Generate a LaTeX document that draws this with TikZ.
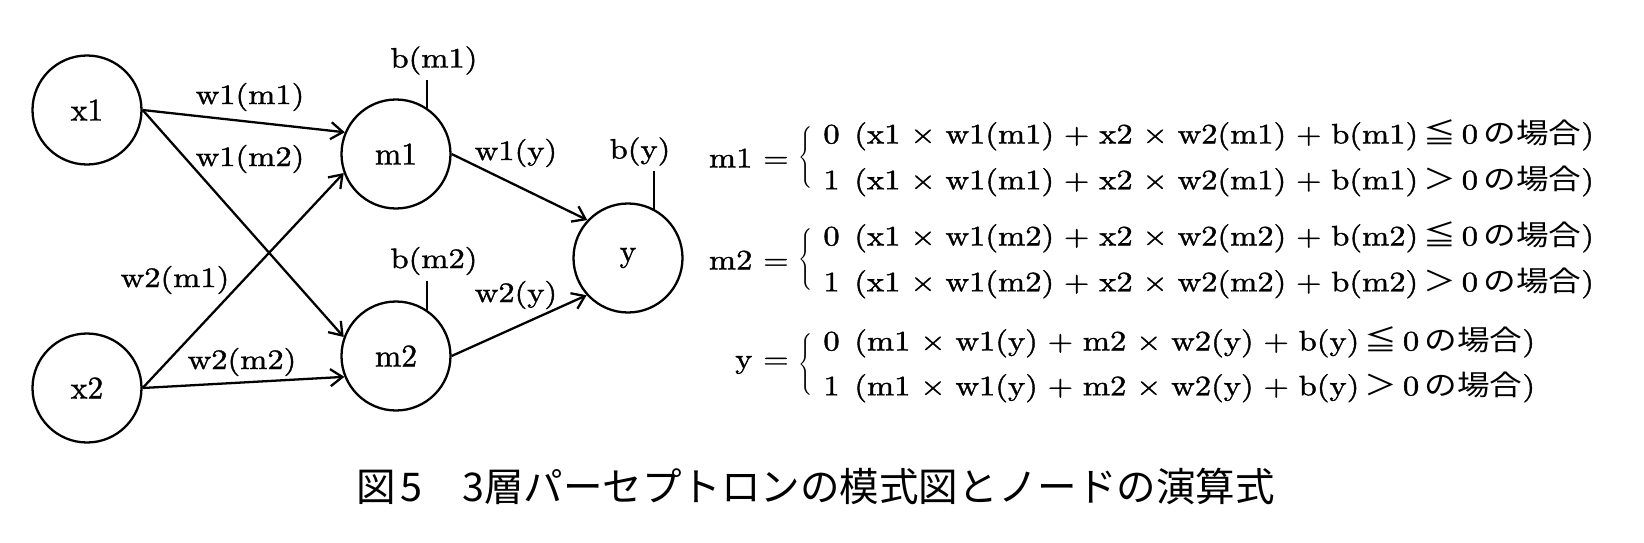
\documentclass[tikz,border=0pt]{standalone}
\usepackage{fontspec}
\usepackage{graphicx}
\usetikzlibrary{arrows.meta}
\setmainfont{lmroman10-regular.otf}[FakeBold=1.2]
\newfontfamily\ja{Noto Sans CJK JP}

\begin{document}
\begin{tikzpicture}[x=1cm, y=1cm,
    neuron/.style={draw, circle, minimum size=2.18cm, inner sep=0pt, line width=1.3pt, font=\fontsize{18}{18}\selectfont},
    wlab/.style={inner sep=1pt, font=\fontsize{16}{16}\selectfont},
    blab/.style={inner sep=3pt, font=\fontsize{16}{16}\selectfont},
    conn/.style={line width=1.3pt, -{Straight Barb[length=2.4mm,width=3.4mm]}},
    bias/.style={line width=1.3pt},
    brace/.style={inner sep=0pt},
    eqrow/.style={anchor=west, inner sep=0pt, font=\fontsize{16}{16}\selectfont},
    eqlhs/.style={anchor=east, inner sep=0pt, font=\fontsize{16}{16}\selectfont}]
  \def\sx#1{\scalebox{1.16}[1]{#1}}
  \def\op#1{\hspace{.3em}#1\hspace{.3em}}
  \def\lbr{\scalebox{1}[1.17]{$\Bigg\{$}}
  \useasboundingbox (0,0) rectangle (32.88,10.84);
  %
  \node[neuron] (x1) at (1.74,8.64) {x1};   % input layer
  \node[neuron] (x2) at (1.74,3.08) {x2};
  \node[neuron] (m1) at (7.92,7.76) {m1};   % middle layer
  \node[neuron] (m2) at (7.92,3.72) {m2};
  \node[neuron] (y)  at (12.56,5.68) {y};   % output
  %
  \node[wlab] (lw1m1) at (5.0,8.9)   {\sx{w1(m1)}};
  \node[wlab] (lw1m2) at (5.0,7.66)  {\sx{w1(m2)}};
  \node[wlab] (lw2m1) at (3.5,5.24)  {\sx{w2(m1)}};
  \node[wlab] (lw2m2) at (4.84,3.6)  {\sx{w2(m2)}};
  \node[wlab] (lw1y)  at (10.32,7.78) {\sx{w1(y)}};
  \node[wlab] (lw2y)  at (10.32,4.94) {\sx{w2(y)}};
  \node[blab] (bm1) at (8.68,9.63) {\sx{b(m1)}};
  \node[blab] (bm2) at (8.68,5.62) {\sx{b(m2)}};
  \node[blab] (by)  at (12.8,7.81) {\sx{b(y)}};
  %
  \draw[conn] (x1.east) -- (m1.157);
  \draw[conn] (x1.east) -- (m2.160);
  \draw[conn] (x2.east) -- (m1.200);
  \draw[conn] (x2.east) -- (m2.202);
  \draw[conn] (m1.east) -- (y.137);
  \draw[conn] (m2.east) -- (y.222);
  \draw[bias] (m1.56) -- (m1.56 |- bm1.south);
  \draw[bias] (m2.56) -- (m2.56 |- bm2.south);
  \draw[bias] (y.62) -- (y.62 |- by.south);
  %
  \node[eqlhs] (lhsm1) at (15.78,7.68) {\sx{m1 =}};   % m1 rule
  \node[brace] (brm1) at (16.12,7.68) {\lbr};
  \node[eqrow] (eqm1a) at (16.46,8.14) {\sx{0\hspace{.45em}(x1\op{×}w1(m1)\op{+}x2\op{×}w2(m1)\op{+}b(m1)\,{\ja ≦}\,0\,{\ja の場合})}};
  \node[eqrow] (eqm1b) at (16.46,7.22) {\sx{1\hspace{.45em}(x1\op{×}w1(m1)\op{+}x2\op{×}w2(m1)\op{+}b(m1)\,{\ja ＞}\,0\,{\ja の場合})}};
  %
  \node[eqlhs] (lhsm2) at (15.78,5.64) {\sx{m2 =}};   % m2 rule
  \node[brace] (brm2) at (16.12,5.64) {\lbr};
  \node[eqrow] (eqm2a) at (16.46,6.10) {\sx{0\hspace{.45em}(x1\op{×}w1(m2)\op{+}x2\op{×}w2(m2)\op{+}b(m2)\,{\ja ≦}\,0\,{\ja の場合})}};
  \node[eqrow] (eqm2b) at (16.46,5.18) {\sx{1\hspace{.45em}(x1\op{×}w1(m2)\op{+}x2\op{×}w2(m2)\op{+}b(m2)\,{\ja ＞}\,0\,{\ja の場合})}};
  %
  \node[eqlhs] (lhsy) at (15.78,3.54) {\sx{y =}};   % y rule
  \node[brace] (bry) at (16.12,3.54) {\lbr};
  \node[eqrow] (eqya) at (16.46,4.00) {\sx{0\hspace{.45em}(m1\op{×}w1(y)\op{+}m2\op{×}w2(y)\op{+}b(y)\,{\ja ≦}\,0\,{\ja の場合})}};
  \node[eqrow] (eqyb) at (16.46,3.10) {\sx{1\hspace{.45em}(m1\op{×}w1(y)\op{+}m2\op{×}w2(y)\op{+}b(y)\,{\ja ＞}\,0\,{\ja の場合})}};
  %
  \node[anchor=west, inner sep=0pt, font=\ja\fontsize{22.5}{22.5}\selectfont] (cap) at (7.12,1.12)
    {図\hspace{.12em}5　3層パーセプトロンの模式図とノードの演算式};
\end{tikzpicture}
\end{document}
